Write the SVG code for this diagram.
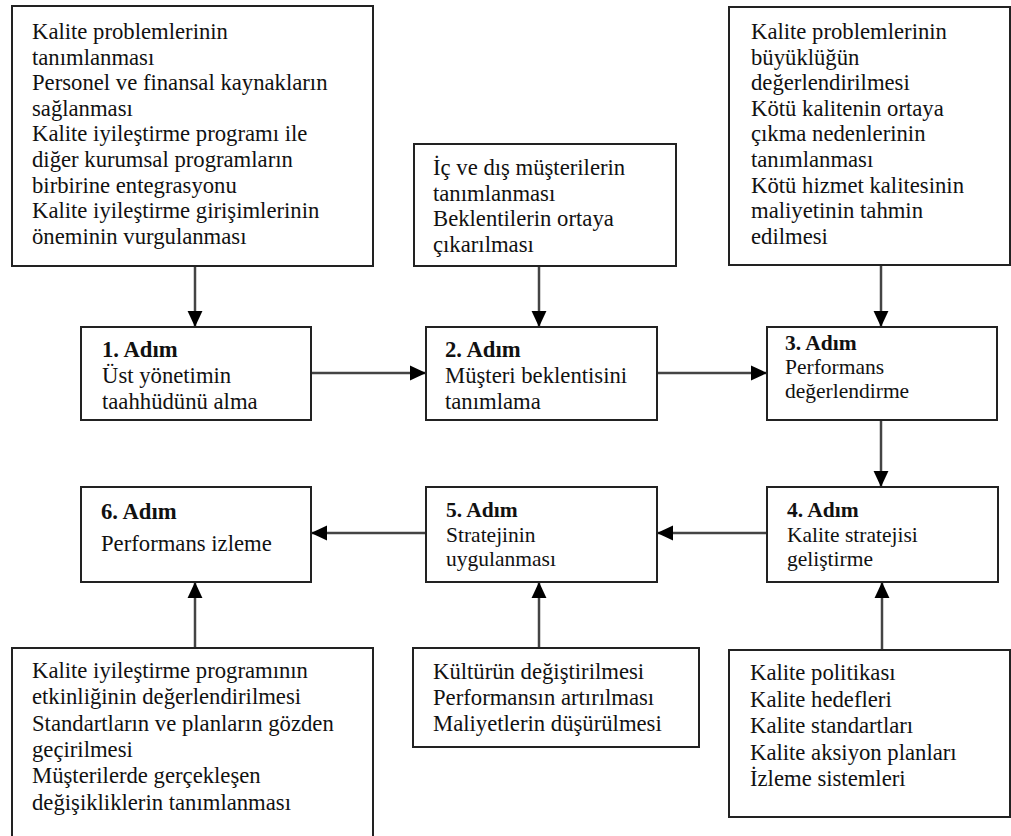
<svg xmlns="http://www.w3.org/2000/svg" width="1011" height="836" viewBox="0 0 1011 836">
<style>
.box{fill:#fff;stroke:#222;stroke-width:2}
.t{font-size:22.7px;fill:#111}
.s{font-size:21.5px;fill:#111}
.b{font-weight:bold}
.c{stroke:#444;stroke-width:2.5;fill:none;marker-end:url(#ah)}
</style>
<defs>
<marker id="ah" markerUnits="userSpaceOnUse" markerWidth="16" markerHeight="16" viewBox="0 0 14 14" refX="14" refY="7" orient="auto">
<path d="M0,0.5 L14,7 L0,13.5 Z" fill="#000"/>
</marker>
</defs>
<rect width="1011" height="836" fill="#fff"/>
<g id="connectors">
<line class="c" x1="195" y1="267" x2="195" y2="327"/>
<line class="c" x1="539" y1="266" x2="539" y2="327"/>
<line class="c" x1="881" y1="265" x2="881" y2="327"/>
<line class="c" x1="311" y1="373" x2="426" y2="373"/>
<line class="c" x1="657" y1="373" x2="767" y2="373"/>
<line class="c" x1="881" y1="420" x2="881" y2="487"/>
<line class="c" x1="767" y1="533" x2="657" y2="533"/>
<line class="c" x1="426" y1="533" x2="311" y2="533"/>
<line class="c" x1="195" y1="648" x2="195" y2="582"/>
<line class="c" x1="539" y1="648" x2="539" y2="582"/>
<line class="c" x1="882" y1="650" x2="882" y2="582"/>
</g>
<g font-family="'Liberation Serif', 'Times New Roman', Tinos, 'DejaVu Serif', serif">
<g id="top-left">
<rect class="box" x="12" y="6" width="361" height="260"/>
<text class="t">
<tspan x="32" y="39">Kalite problemlerinin</tspan>
<tspan x="32" y="64.6">tanımlanması</tspan>
<tspan x="32" y="90.2">Personel ve finansal kaynakların</tspan>
<tspan x="32" y="115.8">sağlanması</tspan>
<tspan x="32" y="141.4">Kalite iyileştirme programı ile</tspan>
<tspan x="32" y="167">diğer kurumsal programların</tspan>
<tspan x="32" y="192.6">birbirine entegrasyonu</tspan>
<tspan x="32" y="218.2">Kalite iyileştirme girişimlerinin</tspan>
<tspan x="32" y="243.8">öneminin vurgulanması</tspan>
</text>
</g>
<g id="top-middle">
<rect class="box" x="414" y="144" width="262" height="122"/>
<text class="t">
<tspan x="433" y="175">İç ve dış müşterilerin</tspan>
<tspan x="433" y="200.6">tanımlanması</tspan>
<tspan x="433" y="226.2">Beklentilerin ortaya</tspan>
<tspan x="433" y="251.8">çıkarılması</tspan>
</text>
</g>
<g id="top-right">
<rect class="box" x="729" y="7" width="281" height="258"/>
<text class="t">
<tspan x="751" y="39">Kalite problemlerinin</tspan>
<tspan x="751" y="64.6">büyüklüğün</tspan>
<tspan x="751" y="90.2">değerlendirilmesi</tspan>
<tspan x="751" y="115.8">Kötü kalitenin ortaya</tspan>
<tspan x="751" y="141.4">çıkma nedenlerinin</tspan>
<tspan x="751" y="167">tanımlanması</tspan>
<tspan x="751" y="192.6">Kötü hizmet kalitesinin</tspan>
<tspan x="751" y="218.2">maliyetinin tahmin</tspan>
<tspan x="751" y="243.8">edilmesi</tspan>
</text>
</g>
<g id="step1">
<rect class="box" x="81" y="327" width="230" height="93"/>
<text class="t b" x="102" y="357">1. Adım</text>
<text class="t"><tspan x="102" y="383">Üst yönetimin</tspan><tspan x="102" y="409">taahhüdünü alma</tspan></text>
</g>
<g id="step2">
<rect class="box" x="426" y="327" width="231" height="93"/>
<text class="t b" x="445" y="357">2. Adım</text>
<text class="t"><tspan x="445" y="383">Müşteri beklentisini</tspan><tspan x="445" y="409">tanımlama</tspan></text>
</g>
<g id="step3">
<rect class="box" x="767" y="327" width="230" height="93"/>
<text class="s b" x="785" y="350">3. Adım</text>
<text class="s"><tspan x="785" y="374">Performans</tspan><tspan x="785" y="398">değerlendirme</tspan></text>
</g>
<g id="step4">
<rect class="box" x="767" y="487" width="231" height="95"/>
<text class="s b" x="787" y="517">4. Adım</text>
<text class="s"><tspan x="787" y="542">Kalite stratejisi</tspan><tspan x="787" y="566">geliştirme</tspan></text>
</g>
<g id="step5">
<rect class="box" x="426" y="487" width="231" height="95"/>
<text class="s b" x="446" y="517">5. Adım</text>
<text class="s"><tspan x="446" y="542">Stratejinin</tspan><tspan x="446" y="566">uygulanması</tspan></text>
</g>
<g id="step6">
<rect class="box" x="81" y="487" width="230" height="95"/>
<text class="t b" x="101" y="519">6. Adım</text>
<text class="t" x="101" y="551">Performans izleme</text>
</g>
<g id="bottom-left">
<rect class="box" x="12" y="648" width="361" height="200"/>
<text class="t">
<tspan x="32" y="678">Kalite iyileştirme programının</tspan>
<tspan x="32" y="704.3">etkinliğinin değerlendirilmesi</tspan>
<tspan x="32" y="730.6">Standartların ve planların gözden</tspan>
<tspan x="32" y="757">geçirilmesi</tspan>
<tspan x="32" y="783">Müşterilerde gerçekleşen</tspan>
<tspan x="32" y="809.6">değişikliklerin tanımlanması</tspan>
</text>
</g>
<g id="bottom-middle">
<rect class="box" x="413" y="648" width="286" height="99"/>
<text class="t">
<tspan x="433" y="679">Kültürün değiştirilmesi</tspan>
<tspan x="433" y="705">Performansın artırılması</tspan>
<tspan x="433" y="731">Maliyetlerin düşürülmesi</tspan>
</text>
</g>
<g id="bottom-right">
<rect class="box" x="729" y="650" width="281" height="167"/>
<text class="t">
<tspan x="750" y="680">Kalite politikası</tspan>
<tspan x="750" y="706.5">Kalite hedefleri</tspan>
<tspan x="750" y="733">Kalite standartları</tspan>
<tspan x="750" y="759.5">Kalite aksiyon planları</tspan>
<tspan x="750" y="786">İzleme sistemleri</tspan>
</text>
</g>
</g>
</svg>
